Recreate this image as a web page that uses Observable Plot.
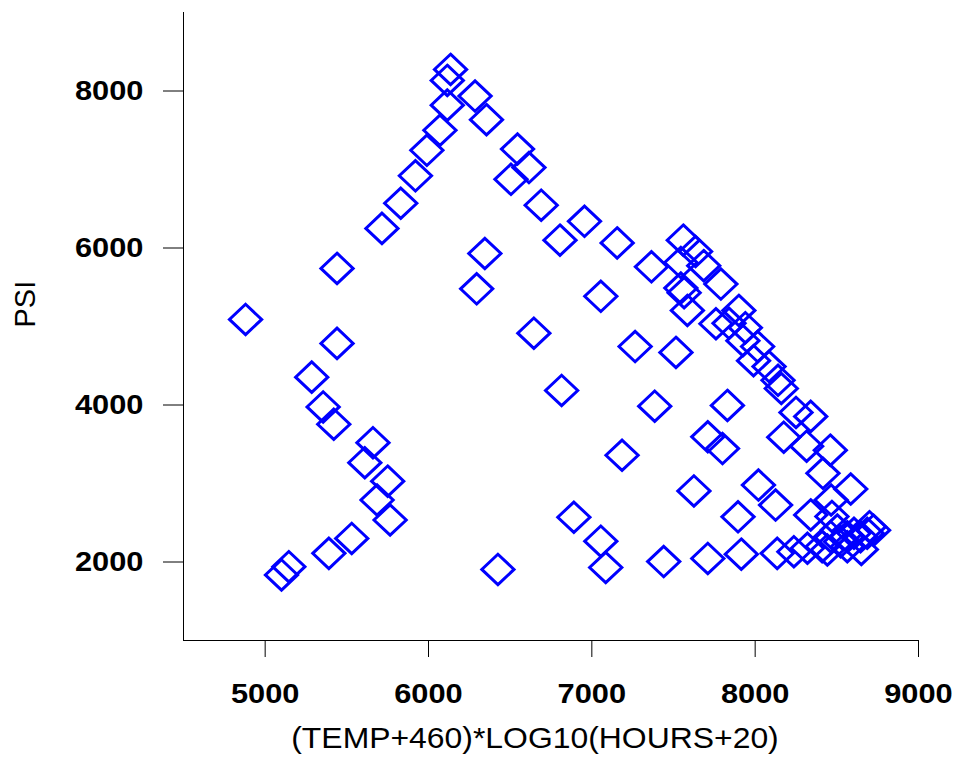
<!DOCTYPE html>
<html>
<head>
<meta charset="utf-8">
<script src="https://cdn.jsdelivr.net/npm/d3@7"></script>
<script src="https://cdn.jsdelivr.net/npm/@observablehq/plot@0.6"></script>
<style>
  html, body { margin: 0; padding: 0; background: #ffffff; }
</style>
</head>
<body>
<div id="chart"></div>
<script>
// Larson-Miller parameter (x) against stress in PSI (y), one value per test
const lmp = [
  4880, 5440, 5715, 5830, 5920, 5990, 6070, 6115, 6115, 6135,
  6285, 6355, 6545, 6615, 6505, 6690, 6805, 6345, 6295, 6645,
  5440, 5285, 5355, 5420, 5660, 5610, 5750, 5685, 5765, 5530,
  5390, 5145, 5100, 6425, 6815, 6955, 7155, 7365, 7055, 7560,
  7635, 7545, 7685, 7790, 7545, 7565, 7585, 7760, 7840, 7900,
  7940, 7925, 8015, 7990, 8085, 8140, 8160, 8250, 8340, 8175,
  8315, 8460, 8415, 8585, 7515, 7265, 7385, 7830, 7185, 7710,
  7800, 7625, 6890, 7055, 7085, 7440, 7710, 8020, 8125, 7895,
  7915, 8135, 8237, 8320, 8410, 8340, 8470, 8465, 8725, 8700,
  8650, 8442, 8523, 8564, 8605, 8645, 8686, 8564, 8503, 8462
];
const psi = [
  5090, 5740, 6250, 6570, 6920, 7245, 7500, 7820, 8135, 8275,
  7935, 7635, 7260, 7025, 6875, 6545, 6100, 5930, 5480, 4915,
  4785, 4355, 3975, 3755, 3520, 3265, 3030, 2790, 2535, 2300,
  2110, 1940, 1835, 1905, 4185, 6340, 6065, 5760, 5385, 6100,
  5955, 5815, 5775, 5540, 5490, 5430, 5205, 5035, 5040, 5205,
  4985, 4820, 4745, 4565, 4490, 4315, 4210, 3905, 3855, 3590,
  3475, 3425, 3130, 2930, 4670, 4745, 3985, 3995, 3360, 3595,
  3445, 2905, 2570, 2265, 1930, 2005, 2045, 2980, 2725, 2575,
  2100, 2110, 2131, 2175, 2195, 2600, 2580, 2790, 2405, 2450,
  2160, 2153, 2258, 2322, 2365, 2322, 2365, 2195, 2407, 2322
];

const xTicks = [5000, 6000, 7000, 8000, 9000];
const yTicks = [2000, 4000, 6000, 8000];
const xLabel = "(TEMP+460)*LOG10(HOURS+20)";
const yLabel = "PSI";

// open diamond, a touch wider than tall
const wideDiamond = {
  draw(context, size) {
    const r = Math.sqrt(size / Math.PI);
    const rx = r * 1.06, ry = r;
    context.moveTo(0, -ry);
    context.lineTo(rx, 0);
    context.lineTo(0, ry);
    context.lineTo(-rx, 0);
    context.closePath();
  }
};

const chart = Plot.plot({
  width: 958,
  height: 758,
  marginLeft: 183,
  marginRight: 40,
  marginTop: 12,
  marginBottom: 118,
  style: {
    fontFamily: "'Liberation Sans', Arial, sans-serif",
    fontSize: "28px",
    background: "#ffffff",
    color: "#000000"
  },
  x: {domain: [4500, 9000]},
  y: {domain: [1000, 9000]},
  marks: [
    Plot.axisX({ticks: xTicks, tickSize: 17, tickPadding: 26, tickFormat: d => String(d),
      fontWeight: "bold", label: null, stroke: "#000"}),
    Plot.axisY({ticks: yTicks, tickSize: 20, tickPadding: 20, tickFormat: d => String(d),
      fontWeight: "bold", label: null, stroke: "#000"}),
    Plot.ruleY([1000], {stroke: "#000", strokeWidth: 1}),
    Plot.ruleX([4500], {stroke: "#000", strokeWidth: 1}),
    Plot.dot(lmp, {
      x: lmp,
      y: psi,
      symbol: wideDiamond,
      r: 15.2,
      stroke: "#0000ff",
      strokeWidth: 3,
      fill: "none"
    }),
    Plot.text([xLabel], {frameAnchor: "bottom", lineAnchor: "bottom", dx: -16, dy: 107,
      fontSize: 29, fill: "#000", className: "wide"}),
    Plot.text([yLabel], {frameAnchor: "left", rotate: -90, dx: -158, dy: 1,
      fontSize: 29, fill: "#000"})
  ]
});

document.getElementById("chart").appendChild(chart);

// the lettering is set slightly wide: stretch tick labels and the x title along their baseline
const widen = 1.1;
chart.querySelectorAll('g[aria-label="x-axis tick label"] text, g[aria-label="y-axis tick label"] text, .wide text')
  .forEach(t => {
    const len = t.getComputedTextLength();
    t.setAttribute("textLength", (len * widen).toFixed(1));
    t.setAttribute("lengthAdjust", "spacingAndGlyphs");
  });
</script>
</body>
</html>
